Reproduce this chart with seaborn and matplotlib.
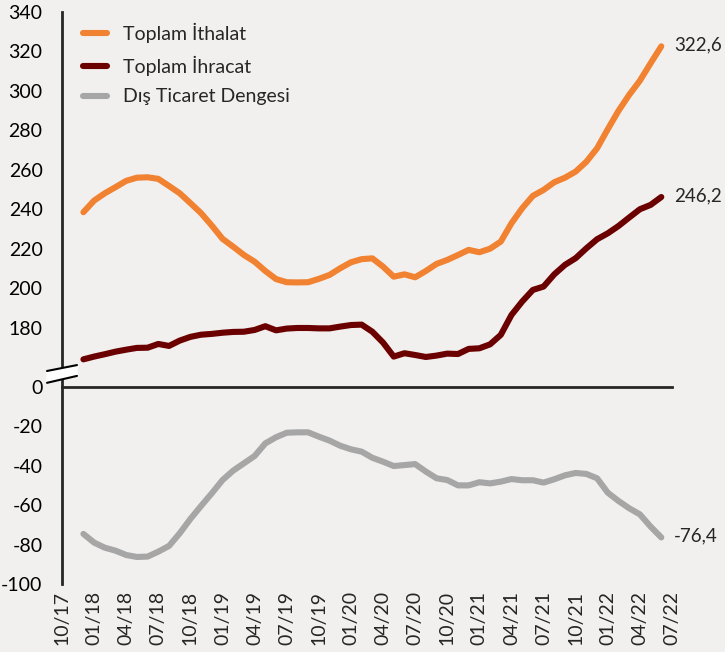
import matplotlib
matplotlib.use("Agg")
import matplotlib.pyplot as plt
import seaborn as sns
import pandas as pd

# 12-month rolling totals (bn USD), 12/17 .. 06/22
months = list(range(2, 57))  # months after 10/17
ithalat = [238.5, 244.4, 248.1, 251.2, 254.4, 256.0, 256.2, 255.4, 251.8, 248.1,
           243.1, 238.0, 231.7, 225.0, 221.0, 216.8, 213.4, 208.7, 204.6, 203.0,
           202.9, 203.0, 204.7, 206.7, 210.1, 213.1, 214.7, 215.1, 210.9, 205.8,
           207.0, 205.5, 208.7, 212.3, 214.3, 216.8, 219.4, 218.2, 220.0, 223.6,
           232.9, 240.5, 246.8, 249.8, 253.7, 256.0, 259.1, 264.1, 270.9, 280.6,
           289.9, 298.0, 305.2, 314.0, 322.6]
ihracat = [163.9, 165.3, 166.5, 167.8, 168.8, 169.7, 169.8, 171.7, 170.7, 173.4,
           175.3, 176.4, 176.8, 177.4, 177.8, 177.9, 178.8, 180.7, 178.6, 179.5,
           179.8, 179.8, 179.6, 179.6, 180.5, 181.3, 181.5, 177.9, 172.4, 165.3,
           167.0, 166.1, 165.1, 165.8, 166.8, 166.6, 169.2, 169.5, 171.5, 176.3,
           186.4, 193.2, 199.1, 200.8, 207.0, 211.8, 215.2, 220.2, 224.8, 227.8,
           231.5, 235.8, 240.0, 242.2, 246.2]
denge = [-74.6, -79.0, -81.6, -83.1, -85.3, -86.3, -86.1, -83.6, -80.7, -74.3,
         -67.0, -60.4, -54.0, -47.3, -42.5, -38.8, -35.1, -28.7, -25.6, -23.3,
         -23.1, -23.1, -25.3, -27.3, -29.9, -31.7, -32.9, -36.0, -38.0, -40.2,
         -39.7, -39.2, -43.0, -46.4, -47.3, -50.0, -50.0, -48.4, -49.0, -48.1,
         -46.8, -47.4, -47.4, -48.6, -46.9, -44.9, -43.7, -44.2, -46.4, -53.7,
         -57.9, -61.6, -64.7, -70.9, -76.4]

x_tick_labels = ["10/17", "01/18", "04/18", "07/18", "10/18", "01/19", "04/19",
                 "07/19", "10/19", "01/20", "04/20", "07/20", "10/20", "01/21",
                 "04/21", "07/21", "10/21", "01/22", "04/22", "07/22"]
y_low_ticks = [-100, -80, -60, -40, -20, 0]
y_high_labels = [180, 200, 220, 240, 260, 280, 300, 320, 340]
offset = 150  # upper block drawn shifted down (broken axis)

bg = "#F2F0EF"
c_imp = "#F08232"
c_exp = "#6B0000"
c_bal = "#A6A6A6"

sns.set_style("white")
plt.rcParams["font.family"] = ["Lato", "DejaVu Sans"]

df = pd.DataFrame({"m": months,
                   "imp": [v - offset for v in ithalat],
                   "exp": [v - offset for v in ihracat],
                   "bal": denge})

fig = plt.figure(figsize=(7.25, 6.52), dpi=100, facecolor=bg)
ax = fig.add_axes([62 / 725, 1 - 584 / 652, 610 / 725, 572 / 652])
ax.set_facecolor(bg)

lw = 4.4
sns.lineplot(data=df, x="m", y="imp", color=c_imp, lw=lw, ax=ax,
             label="Toplam İthalat", solid_capstyle="round")
sns.lineplot(data=df, x="m", y="exp", color=c_exp, lw=lw, ax=ax,
             label="Toplam İhracat", solid_capstyle="round")
sns.lineplot(data=df, x="m", y="bal", color=c_bal, lw=lw, ax=ax,
             label="Dış Ticaret Dengesi", solid_capstyle="round")

ax.set_xlim(0, 57)
ax.set_ylim(-100, 190)
ax.set_xlabel("")
ax.set_ylabel("")

# y ticks: lower block real values, upper block shifted
yt = y_low_ticks + [v - offset for v in y_high_labels]
ax.set_yticks(yt, labels=[str(v) for v in y_low_ticks] + [str(v) for v in y_high_labels])
ax.tick_params(axis="y", direction="out", length=6, width=1.5, labelsize=14,
               pad=8, colors="black")

# x axis line at zero, labels at the bottom
ax.spines["bottom"].set_position(("data", 0))
ax.spines["bottom"].set_linewidth(2)
ax.spines["left"].set_linewidth(2)
for s in ["top", "right"]:
    ax.spines[s].set_visible(False)
xt = list(range(0, 58, 3))
ax.set_xticks(xt)
ax.tick_params(axis="x", direction="out", length=6, width=1.5, labelbottom=False)

sec = ax.secondary_xaxis(0)
sec.set_xticks(xt, labels=x_tick_labels)
sec.tick_params(length=0, labelsize=14, rotation=90, pad=5)
sec.spines["bottom"].set_visible(False)

# axis break marker
brk_x = [-1.4, 1.4, 1.4, -1.4]
brk_y = [8, 11, 5.5, 2]
ax.fill(brk_x, brk_y, color="white", clip_on=False, zorder=5)
ax.plot(brk_x[:2], brk_y[:2], color="black", lw=1.5, clip_on=False, zorder=6)
ax.plot(brk_x[2:], brk_y[2:], color="black", lw=1.5, clip_on=False, zorder=6)

# end labels
for vals, y in [(ithalat, ithalat[-1] - offset), (ihracat, ihracat[-1] - offset),
                (denge, denge[-1])]:
    ax.annotate(f"{vals[-1]:.1f}".replace(".", ","), (months[-1], y),
                xytext=(9, 1), textcoords="offset points", fontsize=13.5,
                va="center", ha="left", annotation_clip=False)

leg = ax.legend(loc="upper left", bbox_to_anchor=(0.034, 0.981), frameon=False,
                fontsize=14, handlelength=1.25, handletextpad=0.8,
                labelspacing=0.65, borderaxespad=0, borderpad=0)
for h in leg.get_lines():
    h.set_linewidth(lw)
    h.set_solid_capstyle("round")

fig.savefig("out.png", dpi=100, facecolor=bg)
